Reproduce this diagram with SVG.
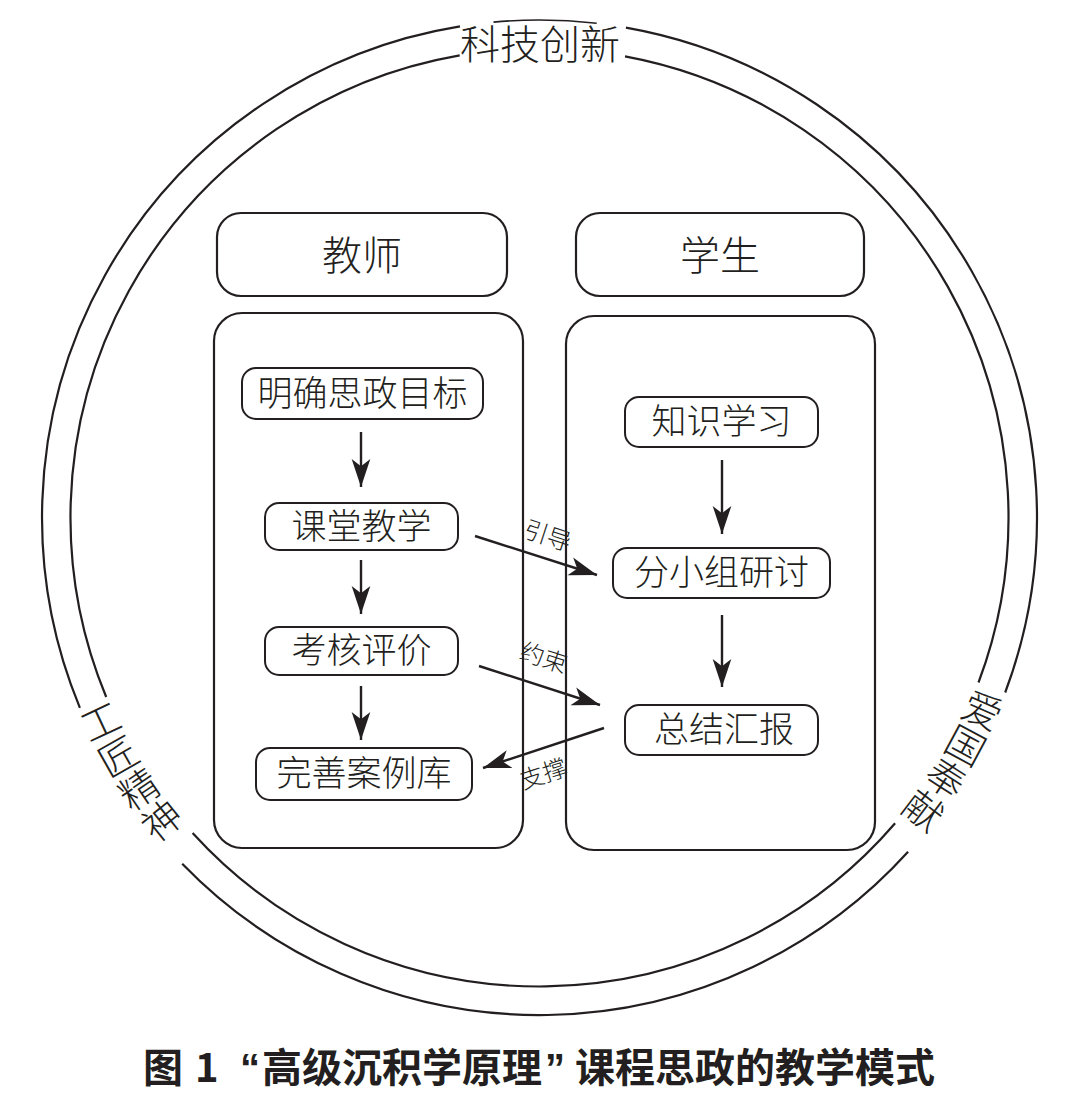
<svg xmlns="http://www.w3.org/2000/svg" width="1072" height="1102" viewBox="0 0 1072 1102">
<style>
.ring{fill:none;stroke:#231f20;stroke-width:2.2}
.box{fill:#fff;stroke:#231f20;stroke-width:2.2}
.node{fill:#fff;stroke:#231f20;stroke-width:2}
.t{font-family:'Noto Sans CJK SC','Noto Sans CJK JP',sans-serif;font-weight:300;fill:#231f20;text-anchor:middle}
.n{font-size:35px}
.h{font-size:40px}
.s{font-size:39px}
.l{font-size:24px}
.cap{font-family:'Noto Sans CJK SC','Noto Sans CJK JP',sans-serif;font-weight:700;font-size:40px;fill:#231f20}
.q{font-family:'Liberation Sans',sans-serif;font-weight:700;font-size:40px;fill:#231f20}
.ln{fill:none;stroke:#231f20;stroke-width:2.4}
</style>
<defs>
<marker id="ah" markerUnits="userSpaceOnUse" markerWidth="28" markerHeight="20" refX="27" refY="9" orient="auto" viewBox="0 0 27 18">
<path d="M0,0 L27,9 L0,18 L7,9 Z" fill="#231f20"/>
</marker>
</defs>
<rect width="1072" height="1102" fill="#fff"/>

<g id="rings">
<path class="ring" d="M625.9,27.6 A497.5,497.5 0 0 1 1005.2,692.5"/>
<path class="ring" d="M908.1,851.7 A497.5,497.5 0 0 1 182.2,863.7"/>
<path class="ring" d="M79.9,707.9 A497.5,497.5 0 0 1 460.0,26.4"/>
<path class="ring" d="M493.5,22.1 A497.5,497.5 0 0 1 596.7,23.3" style="stroke-width:1.6"/>
<path class="ring" d="M625.0,56.3 A469,469 0 0 1 978.5,682.5"/>
<path class="ring" d="M895.1,823.3 A469,469 0 0 1 192.6,833.1"/>
<path class="ring" d="M106.2,697.0 A469,469 0 0 1 459.7,55.3"/>
</g>

<g id="ring-labels">
<text class="t h" x="540" y="59">科技创新</text>
<g class="t s">
<text transform="translate(100.9,722.0) rotate(-25)" y="14">工</text>
<text transform="translate(118.6,756.6) rotate(-29.6)" y="14">匠</text>
<text transform="translate(139.2,789.6) rotate(-34.2)" y="14">精</text>
<text transform="translate(162.2,820.8) rotate(-38.8)" y="14">神</text>
<text transform="translate(982.1,710.9) rotate(23.6)" y="14">爱</text>
<text transform="translate(965.2,745.8) rotate(28.2)" y="14">国</text>
<text transform="translate(945.5,779.1) rotate(32.8)" y="14">奉</text>
<text transform="translate(923.2,810.9) rotate(37.4)" y="14">献</text>
</g>
</g>

<g id="teacher-header">
<rect class="box" x="217" y="213" width="290" height="83" rx="24"/>
<text class="t h" x="362" y="270">教师</text>
</g>
<g id="student-header">
<rect class="box" x="576" y="213" width="288" height="83" rx="24"/>
<text class="t h" x="720" y="270">学生</text>
</g>
<g id="teacher-panel">
<rect class="box" x="214" y="313" width="309" height="535" rx="28"/>
</g>
<g id="student-panel">
<rect class="box" x="566" y="316" width="309" height="534" rx="28"/>
</g>

<g id="connectors">
<line class="ln" x1="361" y1="432" x2="361" y2="487" marker-end="url(#ah)"/>
<line class="ln" x1="361" y1="560" x2="361" y2="614" marker-end="url(#ah)"/>
<line class="ln" x1="361" y1="686" x2="361" y2="740" marker-end="url(#ah)"/>
<line class="ln" x1="722" y1="460" x2="722" y2="534" marker-end="url(#ah)"/>
<line class="ln" x1="722" y1="615" x2="722" y2="687" marker-end="url(#ah)"/>
<line class="ln" x1="475" y1="536" x2="597" y2="575" marker-end="url(#ah)"/>
<line class="ln" x1="479" y1="666" x2="600" y2="705" marker-end="url(#ah)"/>
<line class="ln" x1="604" y1="728" x2="483" y2="768" marker-end="url(#ah)"/>
<text class="t l" transform="translate(545,544) rotate(18)">引导</text>
<text class="t l" transform="translate(541,666) rotate(18)">约束</text>
<text class="t l" transform="translate(546,782) rotate(-18)">支撑</text>
</g>

<g id="n1"><rect class="node" x="242" y="368" width="241" height="51" rx="14"/><text class="t n" x="362.5" y="406">明确思政目标</text></g>
<g id="n2"><rect class="node" x="265" y="503" width="193" height="47" rx="14"/><text class="t n" x="361.5" y="539">课堂教学</text></g>
<g id="n3"><rect class="node" x="265" y="627" width="193" height="48" rx="14"/><text class="t n" x="361.5" y="663">考核评价</text></g>
<g id="n4"><rect class="node" x="256" y="748" width="216" height="52" rx="14"/><text class="t n" x="364" y="786">完善案例库</text></g>
<g id="n5"><rect class="node" x="625" y="397" width="193" height="50" rx="14"/><text class="t n" x="721.5" y="434">知识学习</text></g>
<g id="n6"><rect class="node" x="613" y="548" width="217" height="50" rx="14"/><text class="t n" x="721.5" y="585">分小组研讨</text></g>
<g id="n7"><rect class="node" x="625" y="705" width="193" height="50" rx="14"/><text class="t n" x="724" y="742">总结汇报</text></g>

<g id="caption">
<text class="cap" x="143" y="1082">图</text>
<text class="cap" x="195" y="1082">1</text>
<text class="q" x="260" y="1082" text-anchor="end">“</text>
<text class="cap" x="262" y="1082">高级沉积学原理</text>
<text class="q" x="545" y="1082">”</text>
<text class="cap" x="575" y="1082">课程思政的教学模式</text>
</g>
</svg>
